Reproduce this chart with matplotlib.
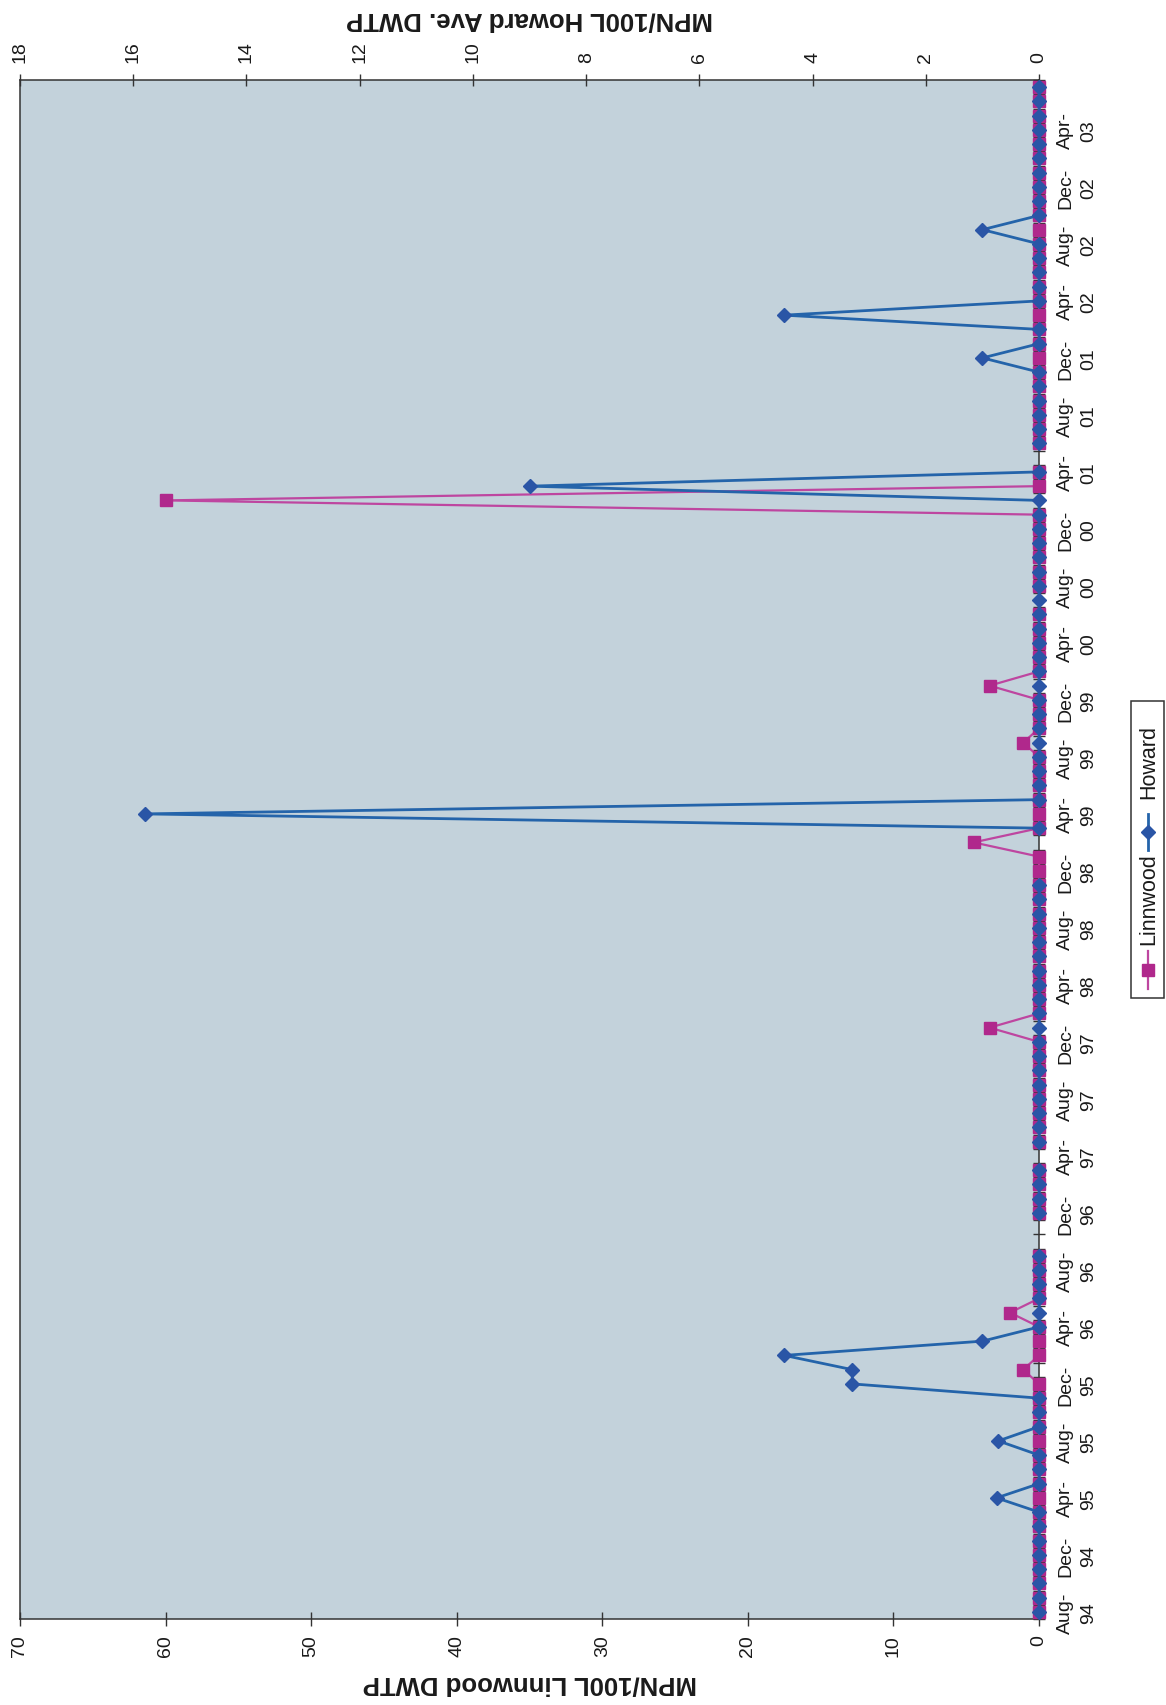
import numpy as np
import pandas as pd
import matplotlib
matplotlib.use("Agg")
import matplotlib.pyplot as plt
from matplotlib.patches import Rectangle

plt.rcParams["font.family"] = ["Liberation Sans", "DejaVu Sans"]

nan = np.nan

# Monthly sampling dates, Aug-94 through Jul-03
months = pd.date_range("1994-08-01", "2003-07-01", freq="MS")
label_step = 4

# MPN/100L at Linnwood DWTP (primary scale, 0-70); nan = no sample
linnwood = [
    0, 0, 0, 0, 0, 0, 0, 0, 0, 0, 0, 0,          # Aug-94 .. Jul-95
    0, 0, 0, 0, 0, 1.1, 0, 0, 0, 2.0, 0, 0,      # Aug-95 .. Jul-96
    0, 0, nan, nan, 0, 0, 0, 0, nan, 0, 0, 0,    # Aug-96 .. Jul-97
    0, 0, 0, 0, 0, 3.4, 0, 0, 0, 0, 0, 0,        # Aug-97 .. Jul-98
    0, 0, 0, 0, 0, 0, 4.5, 0, 0, 0, 0, 0,        # Aug-98 .. Jul-99
    0, 1.1, 0, 0, 0, 3.4, 0, 0, 0, 0, 0, nan,    # Aug-99 .. Jul-00
    0, 0, 0, 0, 0, 0, 60, 0, 0, nan, 0, 0,       # Aug-00 .. Jul-01
    0, 0, 0, 0, 0, 0, 0, 0, 0, 0, 0, 0,          # Aug-01 .. Jul-02
    0, 0, 0, 0, 0, 0, 0, 0, 0, 0, 0, 0,          # Aug-02 .. Jul-03
]

# MPN/100L at Howard Ave. DWTP (secondary scale, 0-18); nan = no sample
howard = [
    0, 0, 0, 0, 0, 0, 0, 0, 0.75, 0, 0, 0,          # Aug-94 .. Jul-95
    0.72, 0, 0, 0, 3.3, 3.3, 4.5, 1.0, 0, 0, 0, 0,  # Aug-95 .. Jul-96
    0, 0, nan, nan, 0, 0, 0, 0, nan, 0, 0, 0,       # Aug-96 .. Jul-97
    0, 0, 0, 0, 0, 0, 0, 0, 0, 0, 0, 0,             # Aug-97 .. Jul-98
    0, 0, 0, 0, nan, nan, nan, 0, 15.8, 0, 0, 0,    # Aug-98 .. Jul-99
    0, 0, 0, 0, 0, 0, 0, 0, 0, 0, 0, 0,             # Aug-99 .. Jul-00
    0, 0, 0, 0, 0, 0, 0, 9.0, 0, nan, 0, 0,         # Aug-00 .. Jul-01
    0, 0, 0, 0, 1.0, 0, 0, 4.5, 0, 0, 0, 0,         # Aug-01 .. Jul-02
    0, 1.0, 0, 0, 0, 0, 0, 0, 0, 0, 0, 0,           # Aug-02 .. Jul-03
]

linnwood_ticks = list(range(0, 71, 10))
howard_ticks = list(range(0, 19, 2))

BG = "#C3D2DB"
AXIS = "#333333"
TEXT = "#1a1a1a"
PINK_LINE = "#BE46A0"
PINK_MARK = "#B0288C"
BLUE_LINE = "#2464AA"
BLUE_MARK = "#2A55A6"

fig = plt.figure(figsize=(11.66, 17.06), dpi=100)
fig.patch.set_facecolor("white")

# Chart is laid out sideways: time runs upward, values grow to the left
ax = fig.add_axes([0.01715, 0.0504, 0.874, 0.9021])
ax.set_facecolor(BG)
ax.set_axisbelow(True)

pos = np.arange(len(months))

ax.plot(linnwood, pos, color=PINK_LINE, lw=1.6, marker="s", ms=8.4,
        mfc=PINK_MARK, mec=PINK_MARK, clip_on=False, zorder=3)
ax.set_xlim(max(linnwood_ticks), 0)
ax.set_ylim(-0.5, len(months) - 0.5)

ax2 = ax.twiny()
ax2.plot(howard, pos, color=BLUE_LINE, lw=2.0, marker="D", ms=7.2,
         mfc=BLUE_MARK, mec=BLUE_MARK, clip_on=False, zorder=3)
ax2.set_xlim(max(howard_ticks), 0)

# Frame
for side, sp in ax.spines.items():
    sp.set_color(AXIS)
    sp.set_linewidth(1.1)
    sp.set_zorder(0.6)
for sp in ax2.spines.values():
    sp.set_visible(False)

# Bottom value axis (Linnwood)
ax.set_xticks(linnwood_ticks)
ax.set_xticklabels([str(v) for v in linnwood_ticks], rotation=90)
ax.tick_params(axis="x", bottom=True, top=False, direction="inout",
               length=10, width=1, color=AXIS, pad=6, labelsize=14,
               labelcolor=TEXT)

# Top value axis (Howard)
ax2.set_xticks(howard_ticks)
ax2.set_xticklabels([str(v) for v in howard_ticks], rotation=90)
ax2.tick_params(axis="x", top=True, bottom=False, direction="inout",
                length=8.6, width=1, color=AXIS, pad=9, labelsize=14,
                labelcolor=TEXT)

# Time axis on the right
ax.yaxis.tick_right()
ax.tick_params(axis="y", which="major", right=True, left=False,
               labelright=True, labelleft=False, length=0, pad=13,
               labelsize=14, labelcolor=TEXT)
ax.tick_params(axis="y", which="minor", right=True, left=False,
               direction="inout", length=8, width=1, color=AXIS)
ax.set_yticks(np.arange(-0.5, len(months), 1.0), minor=True)
tick_pos = pos[::label_step]
tick_lab = [f"{m:%b}-\n{m:%y}" for m in months[::label_step]]
ax.set_yticks(tick_pos, labels=tick_lab, rotation=90, va="center",
              ha="left", multialignment="center", linespacing=1.45)

# Axis titles
fig.text(0.4545, 0.0130, "MPN/100L Linnwood DWTP", rotation=180,
         ha="center", va="center", fontsize=18.5, fontweight="bold",
         color=TEXT)
fig.text(0.4545, 0.9887, "MPN/100L Howard Ave. DWTP", rotation=180,
         ha="center", va="center", fontsize=18.5, fontweight="bold",
         color=TEXT)

# Legend (drawn sideways to read along the time axis)
lax = fig.add_axes([0.970, 0.4144, 0.0283, 0.174])
lax.set_xlim(0, 1)
lax.set_ylim(0, 1)
lax.axis("off")
lax.add_patch(Rectangle((0, 0), 1, 1, transform=lax.transAxes, fill=False,
                        ec=AXIS, lw=1.1, clip_on=False))
lax.plot([0.5, 0.5], [0.03, 0.16], color=PINK_LINE, lw=1.6)
lax.plot([0.5], [0.095], marker="s", ms=8.4, color=PINK_MARK, ls="none")
lax.text(0.55, 0.335, "Linnwood", rotation=90, ha="center", va="center",
         fontsize=15.5, color=TEXT)
lax.plot([0.5, 0.5], [0.50, 0.62], color=BLUE_LINE, lw=2.0)
lax.plot([0.5], [0.56], marker="D", ms=7.2, color=BLUE_MARK, ls="none")
lax.text(0.55, 0.80, "Howard", rotation=90, ha="center", va="center",
         fontsize=15.5, color=TEXT)

fig.savefig("out.png", dpi=100, facecolor="white")
